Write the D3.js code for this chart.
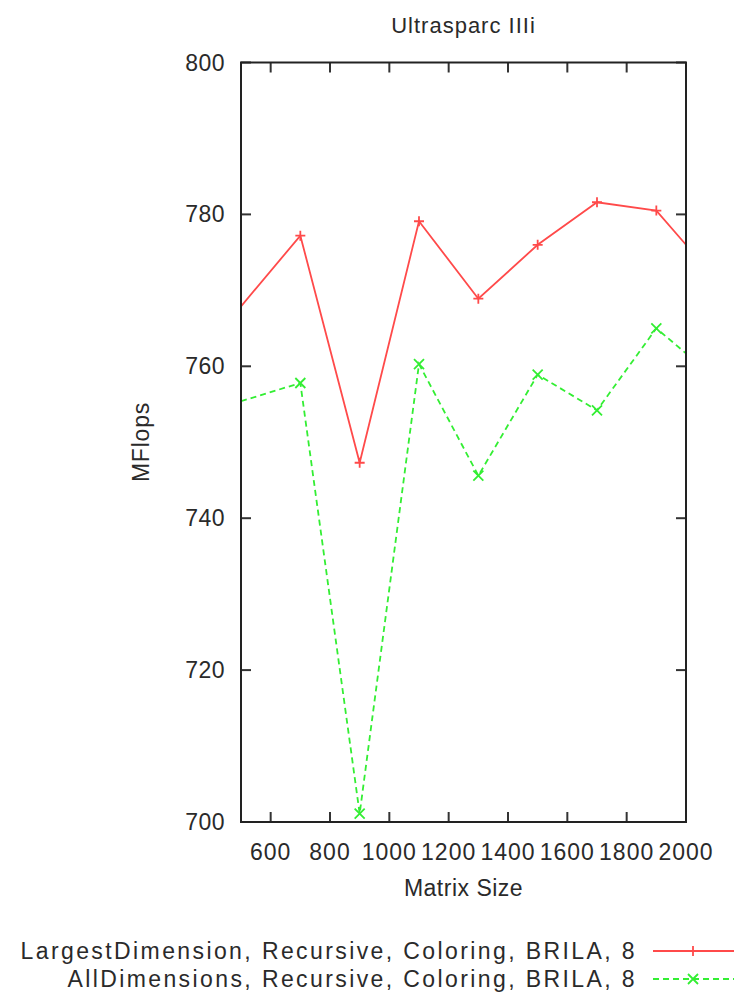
<!DOCTYPE html>
<html>
<head>
<meta charset="utf-8">
<script src="https://cdn.jsdelivr.net/npm/d3@7"></script>
<style>
  body { margin: 0; background: #fff; }
  text { font-family: "Liberation Sans", Arial, sans-serif; fill: #2a2a2a; }
</style>
</head>
<body>
<svg id="chart"></svg>
<script>
// matrix sizes and measured MFlops (edge values are where the lines meet the frame)
const sizes = [500, 700, 900, 1100, 1300, 1500, 1700, 1900, 2000];
const largestDim = [767.9, 777.2, 747.3, 779.1, 768.9, 776.0, 781.6, 780.5, 776.0];
const allDims = [755.4, 757.8, 701.1, 760.3, 745.6, 758.9, 754.2, 765.0, 761.7];
const xTicks = [600, 800, 1000, 1200, 1400, 1600, 1800, 2000];
const yTicks = [700, 720, 740, 760, 780, 800];
const legendLabels = ["LargestDimension, Recursive, Coloring, BRILA, 8", "AllDimensions, Recursive, Coloring, BRILA, 8"];

const W = 742, H = 998;
const pLeft = 241, pRight = 686, pTop = 62.5, pBottom = 822;

const svg = d3.select("#chart").attr("width", W).attr("height", H);

const x = d3.scaleLinear().domain([500, 2000]).range([pLeft, pRight]);
const y = d3.scaleLinear().domain([700, 800]).range([pBottom, pTop]);

svg.append("clipPath").attr("id", "clip")
  .append("rect").attr("x", pLeft).attr("y", pTop).attr("width", pRight - pLeft).attr("height", pBottom - pTop);

// ticks (inward, mirrored on opposite sides)
const tickLen = 10;
const tickG = svg.append("g").attr("stroke", "#333").attr("stroke-width", 2);
xTicks.forEach(t => {
  tickG.append("line").attr("x1", x(t)).attr("x2", x(t)).attr("y1", pBottom).attr("y2", pBottom - tickLen);
  tickG.append("line").attr("x1", x(t)).attr("x2", x(t)).attr("y1", pTop).attr("y2", pTop + tickLen);
});
yTicks.forEach(t => {
  tickG.append("line").attr("x1", pLeft).attr("x2", pLeft + tickLen).attr("y1", y(t)).attr("y2", y(t));
  tickG.append("line").attr("x1", pRight).attr("x2", pRight - tickLen).attr("y1", y(t)).attr("y2", y(t));
});

// tick labels
svg.append("g").selectAll("text").data(xTicks).join("text")
  .attr("x", d => x(d)).attr("y", 860)
  .attr("text-anchor", "middle").attr("font-size", 23).attr("letter-spacing", 1)
  .text(d => d);
svg.append("g").selectAll("text").data(yTicks).join("text")
  .attr("x", 225).attr("y", d => y(d) + 8)
  .attr("text-anchor", "end").attr("font-size", 23).attr("letter-spacing", 0.5)
  .text(d => d);

// series
const series = [
  {vals: largestDim, color: "#ff4a4a", dash: null, mark: "plus"},
  {vals: allDims, color: "#33ee33", dash: "6,4", mark: "cross"}
];
const plotG = svg.append("g").attr("clip-path", "url(#clip)");
const ms = 5;
function drawMark(g, cx, cy, kind, color) {
  const p = kind === "plus"
    ? `M${cx - ms},${cy}H${cx + ms}M${cx},${cy - ms}V${cy + ms}`
    : `M${cx - ms},${cy - ms}L${cx + ms},${cy + ms}M${cx - ms},${cy + ms}L${cx + ms},${cy - ms}`;
  g.append("path").attr("d", p).attr("stroke", color).attr("stroke-width", 1.8).attr("fill", "none");
}
series.forEach(s => {
  const pts = sizes.map((v, i) => [v, s.vals[i]]);
  plotG.append("path").datum(pts)
    .attr("d", d3.line().x(d => x(d[0])).y(d => y(d[1])))
    .attr("fill", "none").attr("stroke", s.color).attr("stroke-width", 1.8)
    .attr("stroke-dasharray", s.dash);
  pts.filter(d => d[0] > 500 && d[0] < 2000)
    .forEach(d => drawMark(plotG, x(d[0]), y(d[1]), s.mark, s.color));
});

// frame
svg.append("rect").attr("x", pLeft).attr("y", pTop).attr("width", pRight - pLeft).attr("height", pBottom - pTop)
  .attr("fill", "none").attr("stroke", "#222").attr("stroke-width", 2);

// titles
svg.append("text").attr("x", (pLeft + pRight) / 2).attr("y", 33)
  .attr("text-anchor", "middle").attr("font-size", 22).attr("letter-spacing", 1)
  .text("Ultrasparc IIIi");
svg.append("text").attr("x", (pLeft + pRight) / 2).attr("y", 896)
  .attr("text-anchor", "middle").attr("font-size", 23).attr("letter-spacing", 0.5)
  .text("Matrix Size");
svg.append("text").attr("transform", "translate(149,442) rotate(-90)")
  .attr("text-anchor", "middle").attr("font-size", 23).attr("letter-spacing", 0.8)
  .text("MFlops");

// legend
legendLabels.forEach((lab, i) => {
  const ly = 951 + i * 28;
  svg.append("text").attr("x", 637).attr("y", ly + 8)
    .attr("text-anchor", "end").attr("font-size", 23).attr("letter-spacing", 2.4)
    .text(lab);
  const s = series[i];
  svg.append("line").attr("x1", 653).attr("x2", 734).attr("y1", ly).attr("y2", ly)
    .attr("stroke", s.color).attr("stroke-width", 1.8).attr("stroke-dasharray", s.dash);
  drawMark(svg, 693, ly, s.mark, s.color);
});
</script>
</body>
</html>
